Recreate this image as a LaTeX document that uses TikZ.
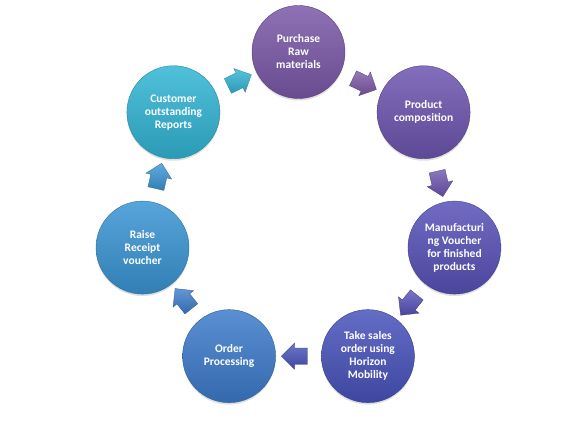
\documentclass[tikz,border=0pt]{standalone}
\usepackage{fontspec}
\setmainfont{Carlito}
\usetikzlibrary{shapes.arrows,shadows,calc}
\definecolor{cA}{HTML}{7B58A8}
\definecolor{cB}{HTML}{6D55B0}
\definecolor{cC}{HTML}{5852B8}
\definecolor{cD}{HTML}{4953BB}
\definecolor{cE}{HTML}{3D7CCB}
\definecolor{cF}{HTML}{3A95D5}
\definecolor{cG}{HTML}{32B5D5}
\begin{document}
\begin{tikzpicture}[x=1pt,y=1pt,
  ball/.style={circle, minimum size=93pt, inner sep=0pt, text=white,
    font=\bfseries\fontsize{11.5}{13}\selectfont, align=center,
    draw=#1!75!black, line width=0.4pt,
    top color=#1!85!white, middle color=#1, bottom color=#1!85!black,
    drop shadow={opacity=0.25, shadow xshift=0pt, shadow yshift=-2pt}},
  blk/.style={single arrow, minimum height=26pt, inner xsep=0pt, inner ysep=8pt,
    single arrow head extend=5pt,
    top color=#1!80!white, bottom color=#1!85!black,
    draw=#1!70!black, line width=0.3pt}]
\fill[white] (0,0) rectangle (570,436);
\useasboundingbox (0,0) rectangle (570,436);
\coordinate (ctr) at (298.5,224);
\node[ball=cA] (n1) at ($(ctr)+(90:160)$) {Purchase\\Raw\\materials};
\node[ball=cB] (n2) at ($(ctr)+(38.571:160)$) {Product\\composition};
\node[ball=cC] (n3) at ($(ctr)+(-12.857:160)$) {Manufacturi\\ng Voucher\\for finished\\products};
\node[ball=cD] (n4) at ($(ctr)+(-64.286:160)$) {Take sales\\order using\\Horizon\\Mobility};
\node[ball=cE] (n5) at ($(ctr)+(-115.714:160)$) {Order\\Processing};
\node[ball=cF] (n6) at ($(ctr)+(-167.143:160)$) {Raise\\Receipt\\voucher};
\node[ball=cG] (n7) at ($(ctr)+(141.429:160)$) {Customer\\outstanding\\Reports};
\node[blk=cA, rotate=-25.714] (a1) at ($(ctr)+(64.286:144.2)$) {};
\node[blk=cB, rotate=-77.143] (a2) at ($(ctr)+(12.857:144.2)$) {};
\node[blk=cC, rotate=-128.571] (a3) at ($(ctr)+(-38.571:144.2)$) {};
\node[blk=cD, rotate=180] (a4) at ($(ctr)+(-90:144.2)$) {};
\node[blk=cE, rotate=128.571] (a5) at ($(ctr)+(-141.429:144.2)$) {};
\node[blk=cF, rotate=77.143] (a6) at ($(ctr)+(167.143:144.2)$) {};
\node[blk=cG, rotate=25.714] (a7) at ($(ctr)+(115.714:144.2)$) {};
\end{tikzpicture}
\end{document}
